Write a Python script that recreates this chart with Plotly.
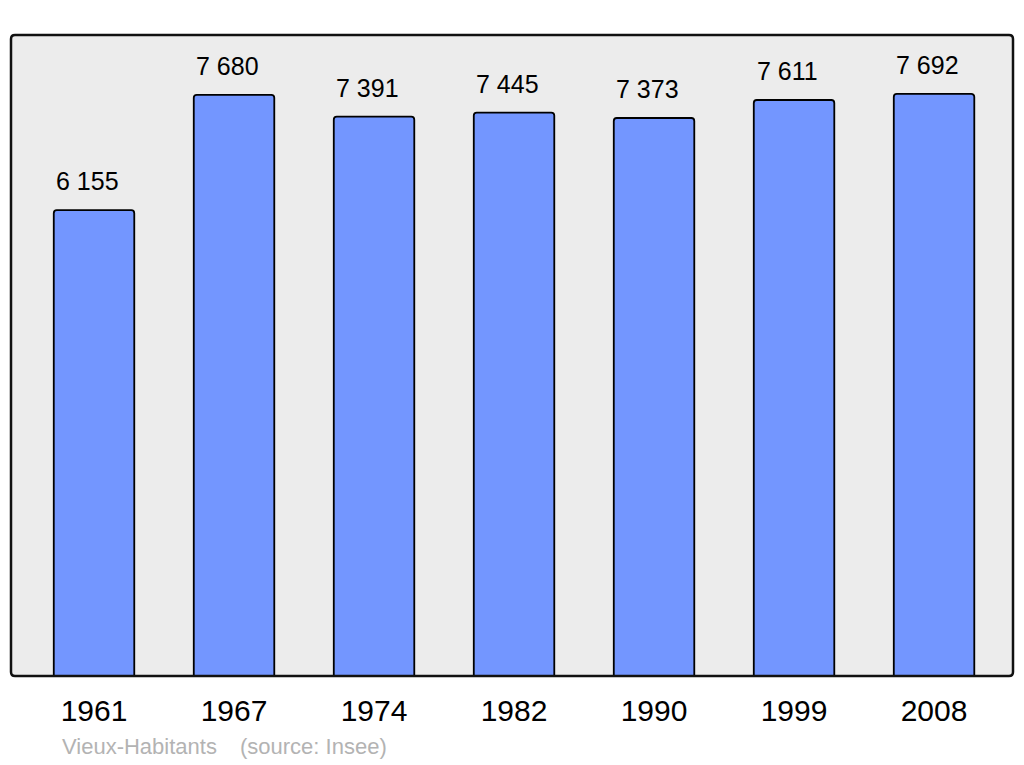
import plotly.graph_objects as go

years = ["1961", "1967", "1974", "1982", "1990", "1999", "2008"]
population = [6155, 7680, 7391, 7445, 7373, 7611, 7692]
value_labels = ["6 155", "7 680", "7 391", "7 445", "7 373", "7 611", "7 692"]
commune = "Vieux-Habitants"
source = "(source: Insee)"

xs = list(range(len(years)))
FONT = "Liberation Sans, Arial, sans-serif"
PW = 1002
PH = 641

fig = go.Figure()
fig.add_trace(go.Bar(
    x=xs, y=population, width=0.575,
    marker=dict(color="#7396ff", line=dict(color="#000000", width=1.8)),
    hoverinfo="skip",
))

for x, v, t in zip(xs, population, value_labels):
    fig.add_annotation(x=x - 0.045, y=v, text=t, showarrow=False,
                       xanchor="center", yanchor="bottom", yshift=13,
                       font=dict(family=FONT, size=25, color="#000"))

fig.add_annotation(xref="paper", yref="paper", x=(62 - 11 - 2) / PW, y=-(746 - 676) / PH,
                   text=commune, showarrow=False, xanchor="left", yanchor="middle",
                   font=dict(family=FONT, size=22, color="#b3b3b3"))
fig.add_annotation(xref="paper", yref="paper", x=(240 - 11 - 2) / PW, y=-(746 - 676) / PH,
                   text=source, showarrow=False, xanchor="left", yanchor="middle",
                   font=dict(family=FONT, size=22, color="#b3b3b3"))

rx, ry = 4 / PW, 4 / PH
frame = (f"M {rx},0 L {1-rx},0 Q 1,0 1,{ry} L 1,{1-ry} Q 1,1 {1-rx},1 "
         f"L {rx},1 Q 0,1 0,{1-ry} L 0,{ry} Q 0,0 {rx},0 Z")
fig.add_shape(type="path", xref="paper", yref="paper", path=frame,
              line=dict(color="#111111", width=2.5), layer="above")

fig.update_layout(
    width=1024, height=765,
    margin=dict(l=11, r=11, t=35, b=89),
    paper_bgcolor="#ffffff", plot_bgcolor="#ececec",
    barcornerradius=3,
    showlegend=False,
    hovermode=False,
    xaxis=dict(range=[-0.593, 6.564], tickmode="array", tickvals=xs, ticktext=years,
               showgrid=False, zeroline=False, showline=False, ticks="",
               ticklabelstandoff=14, fixedrange=True,
               tickfont=dict(family=FONT, size=30, color="#000")),
    yaxis=dict(range=[0, 8470], showgrid=False, zeroline=False, showticklabels=False,
               ticks="", fixedrange=True),
)

fig.write_html("out.html", config={"displayModeBar": False},
               post_script="document.body.style.margin='0';")
